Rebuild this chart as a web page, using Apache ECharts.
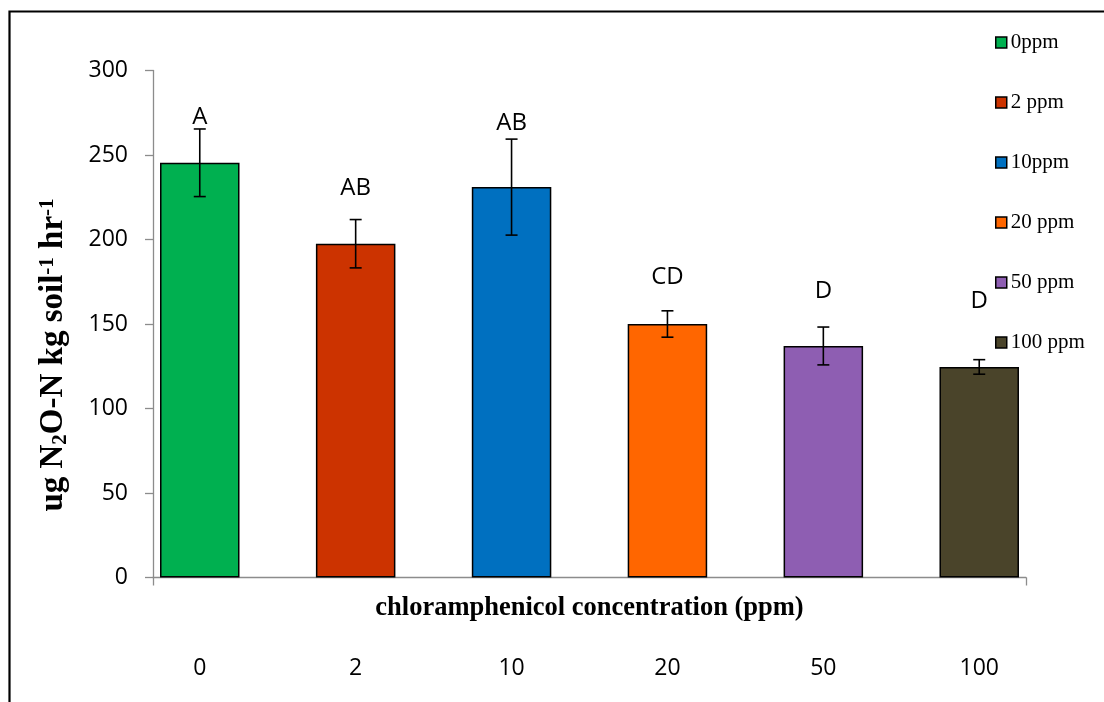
<!DOCTYPE html>
<html>
<head>
<meta charset="utf-8">
<script src="https://cdn.jsdelivr.net/npm/echarts@6/dist/echarts.min.js"></script>
<style>
  html, body { margin: 0; padding: 0; background: #fff; }
  #chart { width: 1104px; height: 702px; }
</style>
</head>
<body>
<div id="chart"></div>
<script>
// ---- data ----
const categories = ['0', '2', '10', '20', '50', '100'];
const seriesNames = ['0ppm', '2 ppm', '10ppm', '20 ppm', '50 ppm', '100 ppm'];
const values = [245.4, 197.5, 231.0, 150.0, 137.0, 124.6];
const errors = [20.0, 14.3, 28.4, 7.8, 11.2, 4.3];
const letters = ['A', 'AB', 'AB', 'CD', 'D', 'D'];
const letterY = [272.5, 230.2, 269.0, 178.0, 169.5, 163.6];
const yTicks = [0, 50, 100, 150, 200, 250, 300];
const colors = ['#00b050', '#cc3300', '#0070c0', '#ff6600', '#8e5eb2', '#4a442a'];

const idx = categories.map((c, i) => i);
const chart = echarts.init(document.getElementById('chart'), null, { renderer: 'canvas' });

const barSeries = seriesNames.map((name, i) => ({
  name: name,
  type: 'bar',
  barWidth: '51%',
  barGap: '-100%',
  data: [[i, values[i]]],
  itemStyle: { color: colors[i], borderColor: '#000', borderWidth: 1.5 },
  silent: true,
  z: 2
}));

const errSeries = {
  type: 'custom',
  silent: true,
  z: 5,
  data: idx.map(i => [i, values[i] - errors[i], values[i] + errors[i]]),
  renderItem: function (params, api) {
    const x = api.value(0);
    const lo = api.coord([x, api.value(1)]);
    const hi = api.coord([x, api.value(2)]);
    const cap = 6;
    const st = { stroke: '#000', lineWidth: 1.6 };
    return {
      type: 'group',
      children: [
        { type: 'line', shape: { x1: hi[0], y1: hi[1], x2: lo[0], y2: lo[1] }, style: st },
        { type: 'line', shape: { x1: hi[0] - cap, y1: hi[1], x2: hi[0] + cap, y2: hi[1] }, style: st },
        { type: 'line', shape: { x1: lo[0] - cap, y1: lo[1], x2: lo[0] + cap, y2: lo[1] }, style: st }
      ]
    };
  }
};

const letterSeries = {
  type: 'scatter',
  silent: true,
  symbolSize: 0,
  itemStyle: { opacity: 1 },
  data: idx.map(i => [i, letterY[i]]),
  label: {
    show: true,
    position: 'inside',
    formatter: p => letters[p.dataIndex],
    color: '#000',
    opacity: 1,
    fontFamily: 'Open Sans',
    fontSize: 24
  },
  z: 6
};

const axisGray = '#8c8c8c';

chart.setOption({
  animation: false,
  backgroundColor: '#fff',
  grid: { left: 153, right: 78, top: 70.5, bottom: 124.5, containLabel: false, outerBoundsMode: 'none' },
  xAxis: {
    type: 'value',
    min: -0.3,
    max: 5.3,
    splitLine: { show: false },
    axisLine: { show: true, onZero: false, lineStyle: { color: axisGray, width: 1.3 } },
    axisTick: { show: true, customValues: [-0.3, 5.3], length: 8, lineStyle: { color: axisGray, width: 1.3 } },
    axisLabel: {
      customValues: idx,
      formatter: v => categories[Math.round(v)],
      margin: 79,
      color: '#000',
      fontFamily: 'Open Sans',
      fontSize: 23
    },
    name: 'chloramphenicol concentration (ppm)',
    nameLocation: 'middle',
    nameGap: 17,
    nameMoveOverlap: false,
    nameTextStyle: { fontFamily: 'Liberation Serif', fontWeight: 'bold', fontSize: 26.5, color: '#000', verticalAlign: 'top' }
  },
  yAxis: {
    type: 'value',
    min: 0,
    max: 300,
    interval: 50,
    splitLine: { show: false },
    axisLine: { show: true, onZero: false, lineStyle: { color: axisGray, width: 1.3 } },
    axisTick: { show: true, length: 8, lineStyle: { color: axisGray, width: 1.3 } },
    axisLabel: {
      margin: 25,
      color: '#000',
      fontFamily: 'Open Sans',
      fontSize: 23,
      formatter: v => String(v)
    }
  },
  legend: {
    orient: 'vertical',
    left: 990,
    top: 27,
    padding: 5,
    itemWidth: 11,
    itemHeight: 11,
    itemGap: 39,
    icon: 'rect',
    data: seriesNames,
    selectedMode: false,
    textStyle: { fontFamily: 'Liberation Serif', fontSize: 21, lineHeight: 20, color: '#000', padding: [0, 0, 0, -1] },
    itemStyle: { borderColor: '#000', borderWidth: 1.5 }
  },
  graphic: [
    {
      type: 'polyline',
      silent: true,
      shape: { points: [[9.5, 702], [9.5, 11.5], [1104, 11.5]] },
      style: { stroke: '#000', lineWidth: 2.2, fill: null }
    },
    {
      type: 'text',
      silent: true,
      x: 53,
      y: 355,
      rotation: Math.PI / 2,
      style: {
        text: '{m|ug N}{sub|2}{m|O-N kg soil}{sup|-1}{m| hr}{sup|-1}',
        align: 'center',
        verticalAlign: 'middle',
        rich: {
          m: { fontFamily: 'Liberation Serif', fontWeight: 'bold', fontSize: 33, lineHeight: 40, verticalAlign: 'middle', color: '#000' },
          sub: { fontFamily: 'Liberation Serif', fontWeight: 'bold', fontSize: 21, lineHeight: 40, verticalAlign: 'bottom', padding: [0, 0, 2, 0], color: '#000' },
          sup: { fontFamily: 'Liberation Serif', fontWeight: 'bold', fontSize: 21, lineHeight: 40, verticalAlign: 'top', padding: [4, 0, 0, 0], color: '#000' }
        }
      }
    }
  ],
  series: barSeries.concat([errSeries, letterSeries])
});
</script>
</body>
</html>
